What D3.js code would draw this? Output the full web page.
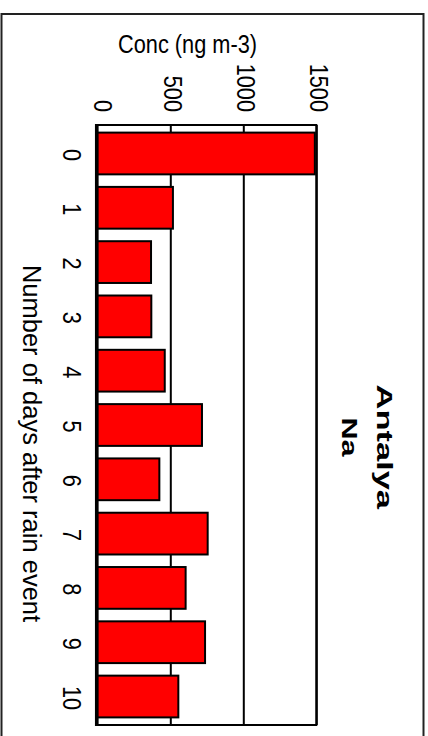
<!DOCTYPE html>
<html>
<head>
<meta charset="utf-8">
<script src="https://cdn.jsdelivr.net/npm/d3@7"></script>
<style>
  html, body { margin: 0; padding: 0; background: #fff; }
  svg { display: block; }
  text { font-family: "Liberation Sans", Arial, Helvetica, sans-serif; fill: #000; }
</style>
</head>
<body>
<script>
// Mean Na concentration at Antalya by days elapsed since the last rain event
const categories = ["0", "1", "2", "3", "4", "5", "6", "7", "8", "9", "10"];
const concValues = [1490, 518, 368, 370, 462, 717, 425, 756, 605, 738, 555];
const tickValues = [0, 500, 1000, 1500];
const valueTitle = "Conc (ng m-3)";
const categoryTitle = "Number of days after rain event";
const titleLines = ["Antalya", "Na"];

const W = 428, H = 736;
const plot = { left: 97.3, right: 316.3, top: 125, bottom: 725 };
const narrow = 0.87; // condensed face for axis labels
const wide = 1.5;    // expanded face for the title

const svg = d3.select("body").append("svg")
  .attr("width", W).attr("height", H);

svg.append("rect").attr("width", W).attr("height", H).attr("fill", "#fff");

// outer frame of the figure
svg.append("rect")
  .attr("x", 1.5).attr("y", 14).attr("width", 422).attr("height", 740)
  .attr("fill", "none").attr("stroke", "#222").attr("stroke-width", 2);

// value axis runs left to right, categories run top to bottom
const x = d3.scaleLinear().domain([0, 1500]).range([plot.left, plot.right]);
const y = d3.scaleBand().domain(categories).range([plot.top, plot.bottom])
  .paddingInner(0.231).paddingOuter(0.14);

// grid lines at each value tick
const grid = svg.append("g")
  .attr("transform", `translate(0,${plot.top})`)
  .call(d3.axisTop(x).tickValues(tickValues.slice(1)).tickSize(-(plot.bottom - plot.top)).tickFormat(""));
grid.select(".domain").remove();
grid.selectAll(".tick line").attr("stroke", "#000").attr("stroke-width", 2);

// plot box
svg.append("rect")
  .attr("x", plot.left).attr("y", plot.top)
  .attr("width", plot.right - plot.left).attr("height", plot.bottom - plot.top)
  .attr("fill", "none").attr("stroke", "#000").attr("stroke-width", 2);

// bars
svg.append("g").selectAll("rect")
  .data(concValues)
  .join("rect")
  .attr("x", x(0))
  .attr("y", (d, i) => y(categories[i]))
  .attr("width", d => x(d) - x(0))
  .attr("height", y.bandwidth())
  .attr("fill", "#ff0000")
  .attr("stroke", "#000")
  .attr("stroke-width", 2);

// thick baseline at zero
svg.append("line")
  .attr("x1", x(0) - 0.6).attr("x2", x(0) - 0.6)
  .attr("y1", plot.top - 1).attr("y2", plot.bottom + 1)
  .attr("stroke", "#000").attr("stroke-width", 3.5);

// value tick labels, rotated to read downward
const valueAxis = svg.append("g")
  .attr("transform", `translate(0,${plot.top})`)
  .call(d3.axisTop(x).tickValues(tickValues).tickSize(0).tickFormat(d3.format("d")));
valueAxis.select(".domain").remove();
valueAxis.selectAll(".tick text")
  .attr("x", 0).attr("y", 0).attr("dy", null)
  .attr("text-anchor", "end")
  .style("font-size", "25px")
  .attr("transform", d => `translate(${d === 0 ? -3.5 : -6.5},${112 - plot.top}) rotate(90) scale(${narrow},1)`);

// category tick labels
const catAxis = svg.append("g")
  .attr("transform", `translate(${plot.left},0)`)
  .call(d3.axisLeft(y).tickSize(0));
catAxis.select(".domain").remove();
catAxis.selectAll(".tick text")
  .attr("x", 0).attr("y", 0).attr("dy", null)
  .attr("text-anchor", "middle")
  .style("font-size", "25px")
  .attr("transform", `translate(${63 - plot.left},1.5) rotate(90) scale(${narrow},1)`);

// value axis title
svg.append("text")
  .attr("transform", `translate(187.5,52.5) scale(${narrow},1)`)
  .attr("text-anchor", "middle")
  .style("font-size", "25px")
  .text(valueTitle);

// category axis title
svg.append("text")
  .attr("transform", `translate(22.5,443.5) rotate(90)`)
  .attr("text-anchor", "middle")
  .style("font-size", "25.5px")
  .text(categoryTitle);

// station and species title
svg.append("text")
  .attr("transform", `translate(377,384.5) rotate(90) scale(${wide},1)`)
  .attr("text-anchor", "start")
  .style("font-size", "23px").style("font-weight", "bold")
  .text(titleLines[0]);
svg.append("text")
  .attr("transform", `translate(342,417.5) rotate(90) scale(1.42,1)`)
  .attr("text-anchor", "start")
  .style("font-size", "21.5px").style("font-weight", "bold")
  .text(titleLines[1]);
</script>
</body>
</html>
